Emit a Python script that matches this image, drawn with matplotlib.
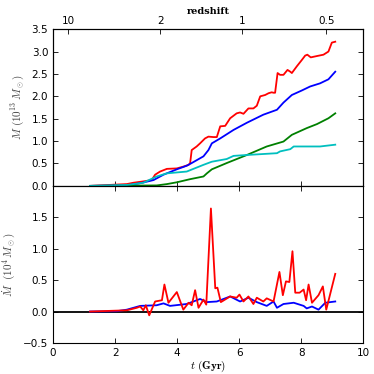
import matplotlib
matplotlib.use("Agg")
import matplotlib.pyplot as plt
import numpy as np

plt.rcParams['mathtext.fontset'] = 'cm'
plt.rcParams['font.family'] = 'DejaVu Sans'

# ---- Top panel: cumulative mass (10^13 Msun) ----
t_red = [1.19, 2.38, 2.59, 2.91, 3.18, 3.29, 3.45, 3.67, 3.99, 4.20, 4.37, 4.42, 4.47, 4.63, 4.74,
         4.90, 5.01, 5.17, 5.28, 5.39, 5.55, 5.71, 5.92, 6.03, 6.14, 6.30, 6.46, 6.57, 6.68, 6.84,
         6.95, 7.05, 7.11, 7.16, 7.24, 7.32, 7.43, 7.56, 7.65, 7.70, 7.86, 8.02, 8.13, 8.20, 8.31,
         8.51, 8.72, 8.88, 8.99, 9.10]
m_red = [0.00, 0.04, 0.07, 0.10, 0.13, 0.25, 0.32, 0.38, 0.39, 0.43, 0.47, 0.51, 0.80, 0.88, 0.95,
         1.06, 1.10, 1.09, 1.09, 1.33, 1.34, 1.51, 1.62, 1.64, 1.61, 1.73, 1.73, 1.79, 2.00, 2.03,
         2.07, 2.09, 2.08, 2.08, 2.52, 2.48, 2.48, 2.59, 2.55, 2.52, 2.67, 2.81, 2.91, 2.93, 2.87,
         2.90, 2.93, 3.00, 3.20, 3.22]

t_blue = [1.19, 2.38, 2.81, 3.24, 3.56, 3.99, 4.31, 4.47, 4.85, 5.01, 5.12, 5.39, 5.82, 6.25,
          6.78, 7.22, 7.43, 7.70, 8.02, 8.29, 8.61, 8.88, 9.10]
m_blue = [0.00, 0.01, 0.06, 0.13, 0.25, 0.37, 0.45, 0.51, 0.66, 0.80, 0.95, 1.06, 1.25, 1.41,
          1.59, 1.70, 1.86, 2.03, 2.13, 2.22, 2.29, 2.38, 2.55]

t_green = [1.19, 3.34, 3.67, 3.99, 4.42, 4.85, 4.96, 5.12, 5.60, 6.25, 6.89, 7.43, 7.70, 8.18,
           8.51, 8.88, 9.10]
m_green = [0.00, 0.01, 0.04, 0.08, 0.15, 0.21, 0.28, 0.37, 0.51, 0.69, 0.88, 0.99, 1.14, 1.29,
           1.38, 1.51, 1.62]

t_cyan = [1.19, 2.38, 2.91, 3.34, 3.67, 4.31, 4.85, 5.12, 5.60, 5.82, 6.25, 7.22, 7.32, 7.65,
          7.76, 8.18, 8.61, 9.10]
m_cyan = [0.00, 0.02, 0.07, 0.21, 0.28, 0.32, 0.47, 0.54, 0.60, 0.67, 0.69, 0.73, 0.77, 0.82,
          0.88, 0.88, 0.88, 0.92]

# ---- Bottom panel: accretion rate ----
t_rate_red = [1.19, 2.38, 2.70, 2.81, 2.91, 2.99, 3.10, 3.29, 3.51, 3.59, 3.72, 3.99, 4.20, 4.37,
              4.47, 4.58, 4.69, 4.85, 4.94, 5.09, 5.23, 5.30, 5.41, 5.71, 5.92, 6.01, 6.14, 6.30,
              6.46, 6.57, 6.78, 6.89, 7.11, 7.30, 7.41, 7.51, 7.62, 7.72, 7.81, 7.95, 8.08, 8.16,
              8.24, 8.35, 8.56, 8.70, 8.81, 9.10]
r_red = [0.00, 0.02, 0.06, 0.08, 0.02, 0.10, -0.06, 0.16, 0.18, 0.43, 0.14, 0.31, 0.03, 0.14,
         0.10, 0.34, 0.06, 0.19, 0.11, 1.64, 0.37, 0.38, 0.15, 0.24, 0.22, 0.27, 0.16, 0.24,
         0.12, 0.22, 0.16, 0.21, 0.16, 0.63, 0.26, 0.48, 0.47, 0.96, 0.30, 0.30, 0.35, 0.18,
         0.43, 0.14, 0.26, 0.40, 0.03, 0.60]

t_rate_blue = [1.19, 2.05, 2.38, 2.81, 3.34, 3.56, 3.77, 4.31, 4.74, 4.96, 5.28, 5.71, 6.03, 6.30,
               6.57, 6.89, 7.11, 7.22, 7.43, 7.76, 8.08, 8.18, 8.35, 8.56, 8.78, 9.10]
r_blue = [0.00, 0.005, 0.03, 0.09, 0.10, 0.13, 0.09, 0.12, 0.20, 0.15, 0.16, 0.24, 0.16, 0.22,
          0.15, 0.09, 0.16, 0.06, 0.12, 0.14, 0.09, 0.05, 0.08, 0.03, 0.14, 0.16]

# ---- Redshift axis ----
z_labels = ['10', '2', '1', '0.5']
z_times = [0.48, 3.45, 6.09, 8.81]

fig = plt.figure(figsize=(3.74, 3.74), dpi=100)
L, W = 0.142, 0.829
ax1 = fig.add_axes([L, 0.503, W, 0.419])
ax2 = fig.add_axes([L, 0.083, W, 0.420])

fs = 7.5
for ax in (ax1, ax2):
    ax.tick_params(direction='in', top=True, right=True, labelsize=fs, length=3.5, width=0.6)
    for s in ax.spines.values():
        s.set_linewidth(0.8)

lw = 1.3
ax1.plot(t_red, m_red, color='#ff0000', lw=lw)
ax1.plot(t_blue, m_blue, color='#0000ff', lw=lw)
ax1.plot(t_green, m_green, color='#008000', lw=lw)
ax1.plot(t_cyan, m_cyan, color='#00bfbf', lw=lw)
ax1.set_xlim(0, 10)
ax1.set_ylim(0, 3.5)
ax1.set_yticks(np.arange(0, 3.51, 0.5))
ax1.set_xticks([0, 2, 4, 6, 8, 10])
ax1.tick_params(labelbottom=False, top=False)
ax1.set_ylabel(r'$M\ (10^{13}\,M_\odot)$', fontsize=8, color='#444444')

sec = ax1.twiny()
sec.set_xlim(0, 10)
sec.set_xticks(z_times)
sec.set_xticklabels(z_labels, fontsize=fs)
sec.tick_params(direction='in', length=3.5, width=0.6, pad=2)
sec.set_xlabel('redshift', fontsize=7, family='DejaVu Serif', fontweight='bold', labelpad=2)

ax2.plot(t_rate_red, r_red, color='#ff0000', lw=lw, zorder=3)
ax2.plot(t_rate_blue, r_blue, color='#0000ff', lw=lw, zorder=2)
ax2.axhline(0, color='black', lw=1.3, zorder=1)
ax2.set_xlim(0, 10)
ax2.set_ylim(-0.5, 2.0)
ax2.set_yticks([-0.5, 0.0, 0.5, 1.0, 1.5])
ax2.set_xticks([0, 2, 4, 6, 8, 10])
ax2.set_ylabel(r'$\dot{M}\ \ (10^4\,M_\odot)$', fontsize=8, color='#444444')
ax2.set_xlabel(r'$t\ \mathbf{(Gyr)}$', fontsize=8, labelpad=1)

fig.savefig('out.png', dpi=100)
